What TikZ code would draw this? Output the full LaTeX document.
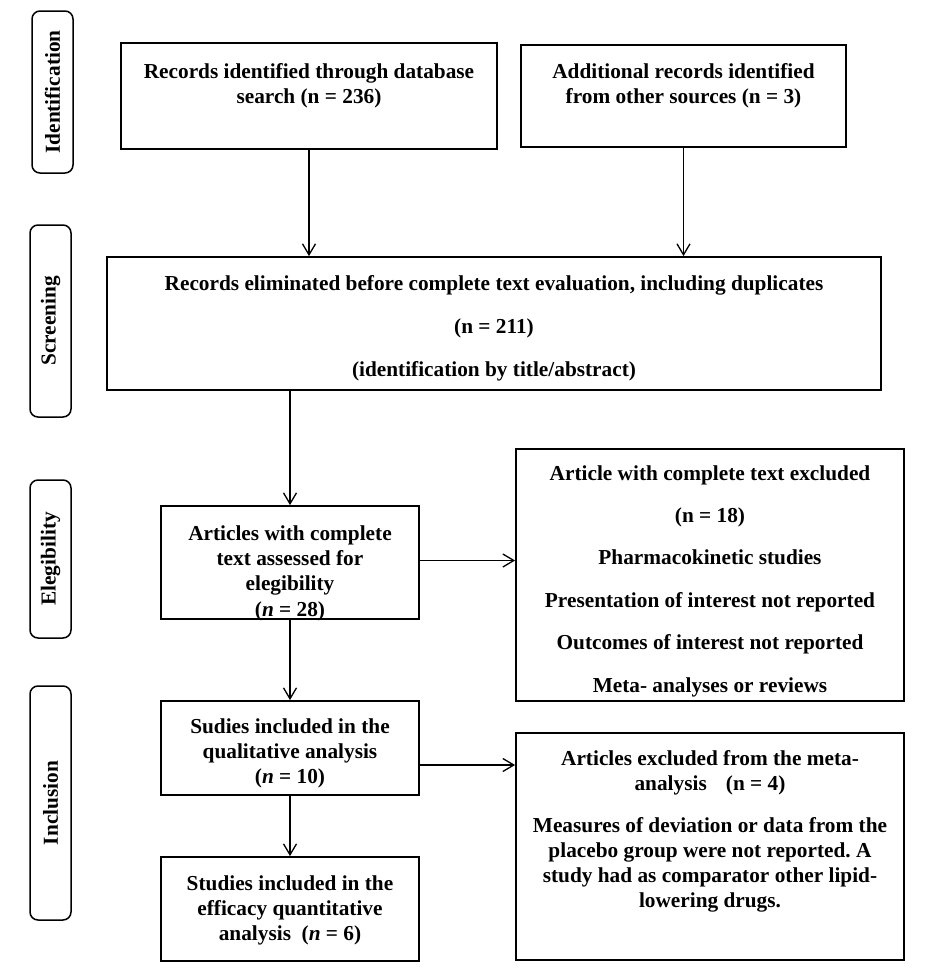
\documentclass[tikz,border=0pt]{standalone}
\usepackage{fontspec}
\setmainfont{Liberation Serif}
\usetikzlibrary{arrows.meta}
\frenchspacing
\newcommand{\flowtext}[4]{\parbox[c][#2][t]{#1}{\centering\rule{0pt}{#3}#4}}
\begin{document}
\begin{tikzpicture}[x=1pt,y=-1pt,
  box/.style={draw, line width=1.8pt, inner sep=0pt, font=\fontsize{21.3}{25}\selectfont\bfseries},
  phase/.style={draw, line width=1.5pt, rounded corners=8pt, rotate=90, inner sep=0pt, font=\fontsize{21.3}{25}\selectfont\bfseries},
  arr/.style={line width=1.3pt, -{Straight Barb[length=11pt,width=13pt,line width=1.3pt]}}]
\fill[white] (0,0) rectangle (936,980);
\useasboundingbox (0,0) rectangle (936,980);

% phase labels
\node[phase, minimum width=162pt, minimum height=41pt] (pid) at (52.5,92) {Identification};
\node[phase, minimum width=192pt, minimum height=41pt] (psc) at (50.5,321) {Screening};
\node[phase, minimum width=158pt, minimum height=41pt] (pel) at (50.5,559) {Elegibility};
\node[phase, minimum width=234pt, minimum height=41pt] (pin) at (50.5,803) {Inclusion};

% boxes
\node[box] (a) at (309,96) {\flowtext{376pt}{106pt}{35pt}{Records identified through database\\search (n = 236)}};
\node[box] (b) at (683.5,96) {\flowtext{325pt}{102pt}{33pt}{Additional records identified\\from other sources (n = 3)}};
\node[box] (c) at (494,323.5) {\flowtext{774pt}{133pt}{33pt}{Records eliminated before complete text evaluation, including duplicates\\[18pt](n = 211)\\[18pt](identification by title/abstract)}};
\node[box] (d) at (290,562.5) {\flowtext{258pt}{113pt}{34pt}{Articles with complete\\text assessed for\\elegibility\\[1pt](\textit{n} = 28)}};
\node[box] (e) at (290,748) {\flowtext{258pt}{94pt}{32pt}{Sudies included in the\\qualitative analysis\\(\textit{n} = 10)}};
\node[box] (f) at (290,909) {\flowtext{258pt}{104pt}{33pt}{Studies included in the\\efficacy quantitative\\analysis\ \ (\textit{n} = 6)}};
\node[box] (g) at (710,575) {\flowtext{388pt}{252pt}{31pt}{Article with complete text excluded\\[17.4pt](n = 18)\\[17.4pt]Pharmacokinetic studies\\[17.4pt]Presentation of interest not reported\\[17.4pt]Outcomes of interest not reported\\[17.4pt]Meta- analyses or reviews}};
\node[box] (h) at (710,846.5) {\flowtext{388pt}{227pt}{32pt}{Articles excluded from the meta-\\analysis\hspace{0.9em}(n = 4)\\[17pt]Measures of deviation or data from the\\placebo group were not reported. A\\study had as comparator other lipid-\\lowering drugs.}};

% connectors
\draw[arr] (a.south) -- (a.south |- c.north);
\draw[arr] (b.south) -- (b.south |- c.north);
\draw[arr] (d.north |- c.south) -- (d.north);
\draw[arr] (d.south) -- (e.north);
\draw[arr] (e.south) -- (f.north);
\draw[arr] ([yshift=2pt]d.east) -- ([yshift=2pt]d.east -| g.west);
\draw[arr] ([yshift=-17pt]e.east) -- ([yshift=-17pt]e.east -| h.west);
\end{tikzpicture}
\end{document}
